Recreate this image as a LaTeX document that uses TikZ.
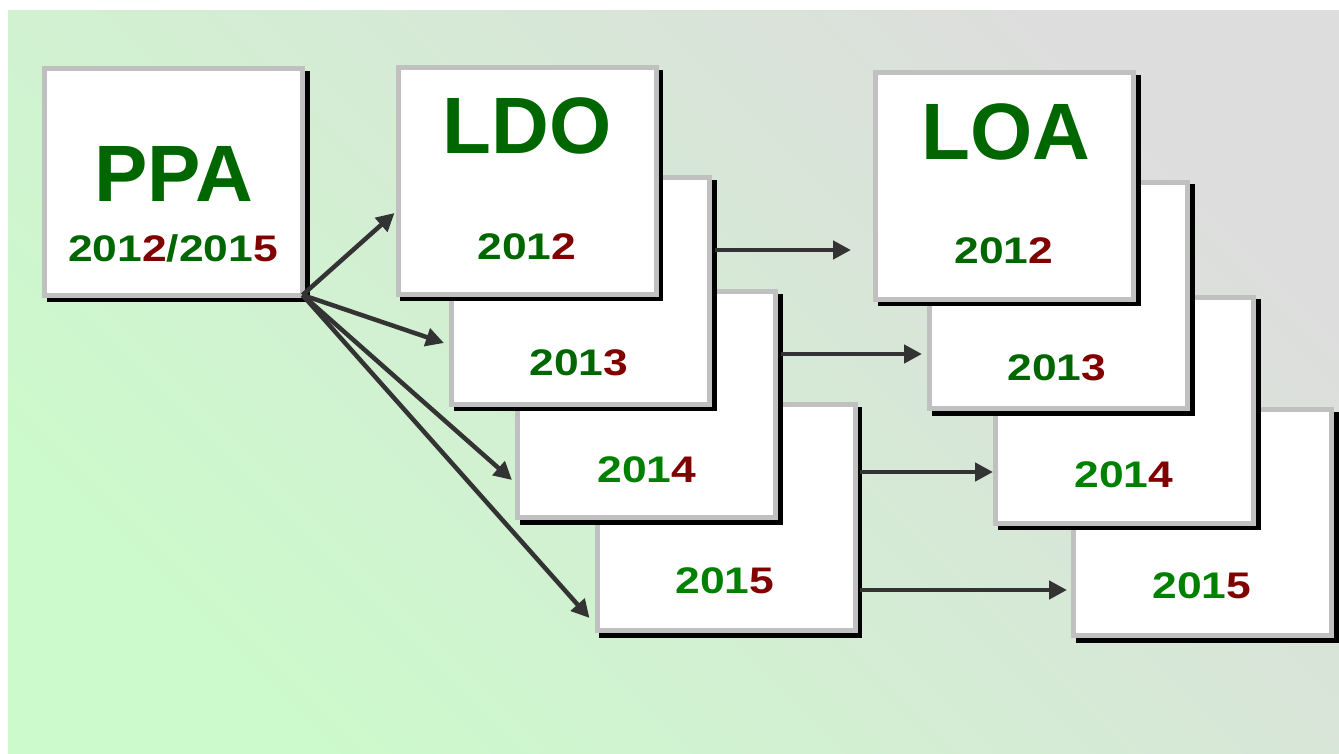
\documentclass[tikz,border=0pt]{standalone}
\usepackage{fontspec}
\setmainfont{Liberation Sans}
\newfontfamily\yearfont[FakeStretch=1.2]{Liberation Sans}
\usetikzlibrary{arrows.meta,shadows}

\definecolor{bgtop}{RGB}{221,221,221}
\definecolor{bgbot}{RGB}{204,250,204}
\definecolor{boxgray}{RGB}{192,192,192}
\definecolor{dkgreen}{RGB}{0,102,0}
\definecolor{ltgreen}{RGB}{0,128,0}
\definecolor{dkred}{RGB}{128,0,0}
\definecolor{arrgray}{RGB}{51,51,51}

\newcommand{\yr}[2]{#1\textcolor{dkred}{#2}}

\tikzset{
  sheet/.style={draw=boxgray, fill=white, line width=5pt, outer sep=0pt, inner sep=0pt,
    minimum width=258pt, minimum height=226pt,
    drop shadow={shadow xshift=4.5pt, shadow yshift=-4.5pt, opacity=1, fill=black, draw=black, line width=5pt}},
  bigtext/.style={font=\bfseries\fontsize{80}{80}\selectfont, text=dkgreen, anchor=base},
  yeartext/.style={font=\yearfont\bfseries\fontsize{37}{37}\selectfont, text=dkgreen, anchor=base},
  arr/.style={line width=4.5pt, draw=arrgray, -{Triangle[length=18pt, width=18pt]}},
}

\begin{document}
\begin{tikzpicture}[x=1pt, y=-1pt]
  \useasboundingbox (0,0) rectangle (1339,754);
  \fill[white] (0,0) rectangle (1339,754);
  \shade[top color=bgtop, bottom color=bgbot, shading angle=-45] (8,11) rectangle (1339,754); % background

  % LOA stack, back to front
  \node[sheet] (loa15) at (1202.5, 522.5) {};
  \node[yeartext, text=ltgreen] (loay15) at (1202, 598) {\yr{201}{5}};
  \node[sheet] (loa14) at (1124.5, 410) {};
  \node[yeartext, text=ltgreen] (loay14) at (1124, 487) {\yr{201}{4}};
  \node[sheet] (loa13) at (1058.5, 295.5) {};
  \node[yeartext] (loay13) at (1057, 380) {\yr{201}{3}};
  \node[sheet] (loa12) at (1004.5, 186) {};
  \node[yeartext] (loay12) at (1004, 263) {\yr{201}{2}};
  \node[bigtext] (loa) at (1006, 160) {LOA};

  % LDO stack, back to front
  \node[sheet] (ldo15) at (726, 517.5) {};
  \node[yeartext, text=ltgreen] (ldoy15) at (725, 593) {\yr{201}{5}};
  \node[sheet] (ldo14) at (646.5, 404.5) {};
  \node[yeartext, text=ltgreen] (ldoy14) at (647, 482) {\yr{201}{4}};
  \node[sheet] (ldo13) at (580.5, 291) {};
  \node[yeartext] (ldoy13) at (579, 375) {\yr{201}{3}};
  \node[sheet] (ldo12) at (527, 181) {};
  \node[yeartext] (ldoy12) at (527, 260) {\yr{201}{2}};
  \node[bigtext] (ldo) at (527, 154) {LDO};

  % PPA
  \node[sheet] (ppa) at (173.5, 182) {};
  \node[bigtext] (ppat) at (173.5, 202) {PPA};
  \node[yeartext] (ppay) at (173, 261.7) {\yr{201}{2}/\yr{201}{5}};

  % PPA -> LDO
  \draw[arr] (ppa.south east) -- ([shift={(-3.5,32)}]ldo12.west);
  \draw[arr] (ppa.south east) -- ([shift={(-7.5,52)}]ldo13.west);
  \draw[arr] (ppa.south east) -- ([shift={(-5.5,75.5)}]ldo14.west);
  \draw[arr] (ppa.south east) -- ([shift={(-7.5,100.5)}]ldo15.west);

  % LDO -> LOA
  \coordinate (r12) at (0,250);
  \coordinate (r13) at (0,354);
  \coordinate (r14) at (0,472);
  \coordinate (r15) at (0,590);
  \draw[arr, shorten <=5.5pt, shorten >=24.5pt] (ldo13.east |- r12) -- (loa12.west |- r12);
  \draw[arr, shorten <=5.5pt, shorten >=7.5pt] (ldo14.east |- r13) -- (loa13.west |- r13);
  \draw[arr, shorten <=5pt, shorten >=2.5pt] (ldo15.east |- r14) -- (loa14.west |- r14);
  \draw[arr, shorten <=5pt, shorten >=6.5pt] (ldo15.east |- r15) -- (loa15.west |- r15);
\end{tikzpicture}
\end{document}
